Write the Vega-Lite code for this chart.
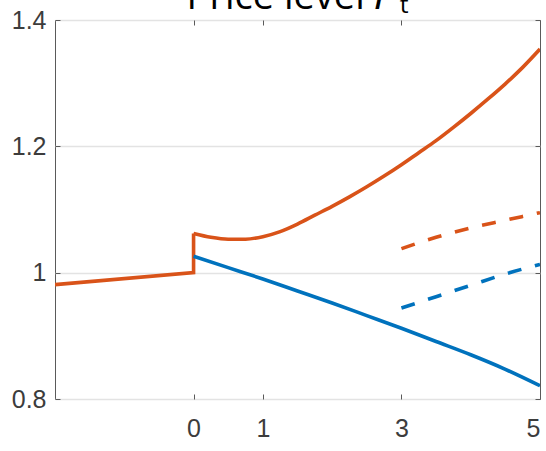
{
  "$schema": "https://vega.github.io/schema/vega-lite/v6.json",
  "width": 485,
  "height": 379,
  "autosize": {"type": "none"},
  "padding": {"left": 55, "top": 20, "right": 6, "bottom": 52},
  "background": "white",
  "title": {
    "text": "Price level 𝑃ₜ",
    "font": "Open Sans",
    "fontSize": 38,
    "fontWeight": "normal",
    "color": "#000000",
    "anchor": "middle",
    "baseline": "alphabetic",
    "offset": 0,
    "dy": 39
  },
  "config": {
    "view": {"stroke": "#5a5a5a", "strokeWidth": 1},
    "axis": {
      "domain": false,
      "labelFont": "Liberation Sans",
      "labelFontSize": 25,
      "labelColor": "#3c3c3c",
      "tickColor": "#5a5a5a",
      "tickSize": -5,
      "grid": false
    }
  },
  "datasets": {
    "before": [
      {"t": -2, "p": 0.981, "path": "low-rate path"},
      {"t": 0, "p": 1.0, "path": "low-rate path"},
      {"t": 0, "p": 1.062, "path": "low-rate path"}
    ],
    "solid": [
      {"t": 0, "p": 1.062, "path": "low-rate path"},
      {"t": 0.25, "p": 1.056, "path": "low-rate path"},
      {"t": 0.5, "p": 1.053, "path": "low-rate path"},
      {"t": 0.75, "p": 1.053, "path": "low-rate path"},
      {"t": 1, "p": 1.057, "path": "low-rate path"},
      {"t": 1.25, "p": 1.065, "path": "low-rate path"},
      {"t": 1.5, "p": 1.077, "path": "low-rate path"},
      {"t": 1.75, "p": 1.091, "path": "low-rate path"},
      {"t": 2, "p": 1.105, "path": "low-rate path"},
      {"t": 2.25, "p": 1.12, "path": "low-rate path"},
      {"t": 2.5, "p": 1.136, "path": "low-rate path"},
      {"t": 2.75, "p": 1.153, "path": "low-rate path"},
      {"t": 3, "p": 1.171, "path": "low-rate path"},
      {"t": 3.25, "p": 1.19, "path": "low-rate path"},
      {"t": 3.5, "p": 1.209, "path": "low-rate path"},
      {"t": 3.75, "p": 1.23, "path": "low-rate path"},
      {"t": 4, "p": 1.252, "path": "low-rate path"},
      {"t": 4.25, "p": 1.275, "path": "low-rate path"},
      {"t": 4.5, "p": 1.299, "path": "low-rate path"},
      {"t": 4.75, "p": 1.325, "path": "low-rate path"},
      {"t": 5, "p": 1.354, "path": "low-rate path"},
      {"t": 0, "p": 1.026, "path": "high-rate path"},
      {"t": 0.5, "p": 1.008, "path": "high-rate path"},
      {"t": 1, "p": 0.99, "path": "high-rate path"},
      {"t": 1.5, "p": 0.971, "path": "high-rate path"},
      {"t": 2, "p": 0.952, "path": "high-rate path"},
      {"t": 2.5, "p": 0.932, "path": "high-rate path"},
      {"t": 3, "p": 0.912, "path": "high-rate path"},
      {"t": 3.5, "p": 0.891, "path": "high-rate path"},
      {"t": 4, "p": 0.87, "path": "high-rate path"},
      {"t": 4.5, "p": 0.847, "path": "high-rate path"},
      {"t": 5, "p": 0.821, "path": "high-rate path"}
    ],
    "dashed": [
      {"t": 3, "p": 1.038, "path": "low-rate path"},
      {"t": 3.5, "p": 1.056, "path": "low-rate path"},
      {"t": 4, "p": 1.071, "path": "low-rate path"},
      {"t": 4.5, "p": 1.083, "path": "low-rate path"},
      {"t": 5, "p": 1.095, "path": "low-rate path"},
      {"t": 3, "p": 0.944, "path": "high-rate path"},
      {"t": 3.5, "p": 0.962, "path": "high-rate path"},
      {"t": 4, "p": 0.98, "path": "high-rate path"},
      {"t": 4.5, "p": 0.998, "path": "high-rate path"},
      {"t": 5, "p": 1.013, "path": "high-rate path"}
    ]
  },
  "encoding": {
    "color": {
      "field": "path",
      "type": "nominal",
      "scale": {"domain": ["low-rate path", "high-rate path"], "range": ["#D95319", "#0072BD"]},
      "legend": null
    }
  },
  "layer": [
    {
      "data": {"name": "before"},
      "mark": {"type": "line", "strokeWidth": 3.6, "strokeJoin": "miter", "clip": true},
      "encoding": {
        "x": {
          "field": "t",
          "type": "quantitative",
          "scale": {"domain": [-2, 5], "nice": false, "zero": false},
          "axis": {"orient": "bottom", "title": null, "values": [0, 1, 3, 5], "labelPadding": 22}
        },
        "y": {
          "field": "p",
          "type": "quantitative",
          "scale": {"domain": [0.8, 1.4], "nice": false, "zero": false},
          "axis": {
            "orient": "left",
            "title": null,
            "values": [0.8, 1, 1.2, 1.4],
            "format": "~g",
            "grid": true,
            "gridColor": "#e3e3e3",
            "gridWidth": 1.3,
            "labelPadding": 14
          }
        }
      }
    },
    {
      "data": {"name": "solid"},
      "mark": {"type": "line", "strokeWidth": 3.6, "interpolate": "monotone", "clip": true},
      "encoding": {
        "x": {"field": "t", "type": "quantitative", "axis": null},
        "y": {"field": "p", "type": "quantitative", "axis": null}
      }
    },
    {
      "data": {"name": "dashed"},
      "mark": {"type": "line", "strokeWidth": 3.6, "strokeDash": [14, 14], "strokeCap": "butt", "interpolate": "monotone", "clip": true},
      "encoding": {
        "x": {
          "field": "t",
          "type": "quantitative",
          "axis": {"orient": "top", "title": null, "values": [0, 1, 3, 5], "labels": false}
        },
        "y": {
          "field": "p",
          "type": "quantitative",
          "axis": {"orient": "right", "title": null, "values": [0.8, 1, 1.2, 1.4], "labels": false}
        }
      }
    }
  ],
  "resolve": {"axis": {"x": "independent", "y": "independent"}}
}
